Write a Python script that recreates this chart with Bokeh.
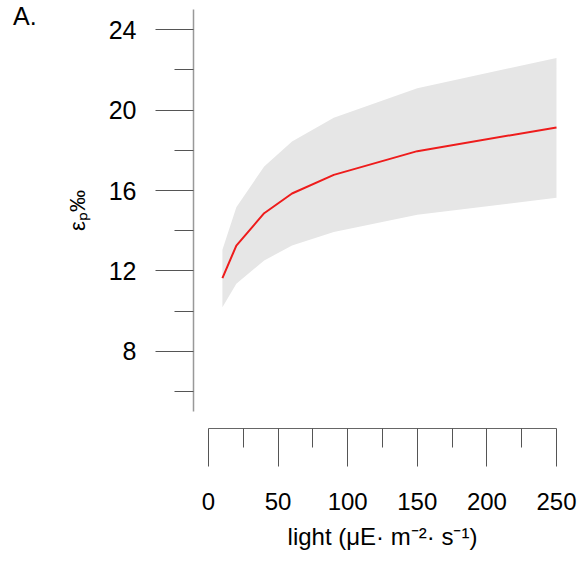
from bokeh.plotting import figure
from bokeh.models import FixedTicker, Range1d, Label
from bokeh.embed import file_html
from bokeh.resources import INLINE

# data
light = [10, 20, 40, 60, 90, 150, 250]
eps_mean = [11.64, 13.26, 14.87, 15.85, 16.78, 17.96, 19.14]
eps_upper = [13.05, 15.17, 17.2, 18.44, 19.62, 21.09, 22.6]
eps_lower = [10.19, 11.36, 12.52, 13.26, 13.93, 14.79, 15.64]

x_major = [0, 50, 100, 150, 200, 250]
x_minor = [25, 75, 125, 175, 225]
y_major = [8, 12, 16, 20, 24]
y_minor = [6, 10, 14, 18, 22]

FONT = "Liberation Sans"
W, H = 583, 561
# scale: pixels per unit and pixel position of reference values
PX_X, X_ZERO_PX = 1.392, 208.0
PX_Y, Y24_PX = 20.09, 29.3
X0, X1 = -X_ZERO_PX / PX_X, (W - X_ZERO_PX) / PX_X
Y1, Y0 = 24 + Y24_PX / PX_Y, 24 - (H - Y24_PX) / PX_Y

p = figure(width=W, height=H, output_backend="svg", toolbar_location=None,
           x_range=Range1d(X0, X1), y_range=Range1d(Y0, Y1),
           min_border_left=0, min_border_right=0, min_border_top=0,
           min_border_bottom=0,
           x_axis_label="light (\u03bcE\u00b7 m\u207b\u00b2\u00b7 s\u207b\u00b9)",
           y_axis_label="\u03b5\u209a\u2030")
p.outline_line_color = None
p.grid.visible = False
p.background_fill_color = "white"
p.border_fill_color = "white"

p.varea(x=light, y1=eps_lower, y2=eps_upper, fill_color="#e6e6e6", fill_alpha=1.0)
p.line(x=light, y=eps_mean, line_color="#ee1c1c", line_width=2)

for ax, ticks, minor, bounds in ((p.xaxis[0], x_major, x_minor, (0, 250)),
                                 (p.yaxis[0], y_major, y_minor, (5, 25))):
    ax.ticker = FixedTicker(ticks=ticks, minor_ticks=minor)
    ax.bounds = bounds
    ax.major_tick_in = 0
    ax.major_tick_out = 38
    ax.minor_tick_in = 0
    ax.minor_tick_out = 19
    ax.major_tick_line_color = "#555555"
    ax.minor_tick_line_color = "#555555"
    ax.major_label_text_font = FONT
    ax.major_label_text_color = "black"
    ax.axis_label_text_font = FONT
    ax.axis_label_text_font_style = "normal"
    ax.axis_label_text_color = "black"

# detached axes (R style): placed a little away from the data region
p.yaxis[0].fixed_location = X0 + 193 / PX_X
p.xaxis[0].fixed_location = Y1 - 428 / PX_Y

p.xaxis[0].axis_line_color = "#666666"
p.xaxis[0].major_label_text_font_size = "24px"
p.xaxis[0].major_label_standoff = 26
p.xaxis[0].axis_label_text_font_size = "24px"
p.xaxis[0].axis_label_standoff = 10
p.yaxis[0].axis_line_color = "#999999"
p.yaxis[0].axis_line_width = 1.5
p.yaxis[0].major_label_text_font_size = "25px"
p.yaxis[0].major_label_standoff = 19
p.yaxis[0].axis_label_text_font_size = "22px"
p.yaxis[0].axis_label_standoff = 16

# panel letter
p.add_layout(Label(x=X0 + 12.5 / PX_X, y=Y1 - 15 / PX_Y, text="A.",
                   text_font=FONT, text_font_size="25px", text_color="black",
                   text_baseline="alphabetic"))

open("out.html", "w").write(file_html(p, INLINE))
